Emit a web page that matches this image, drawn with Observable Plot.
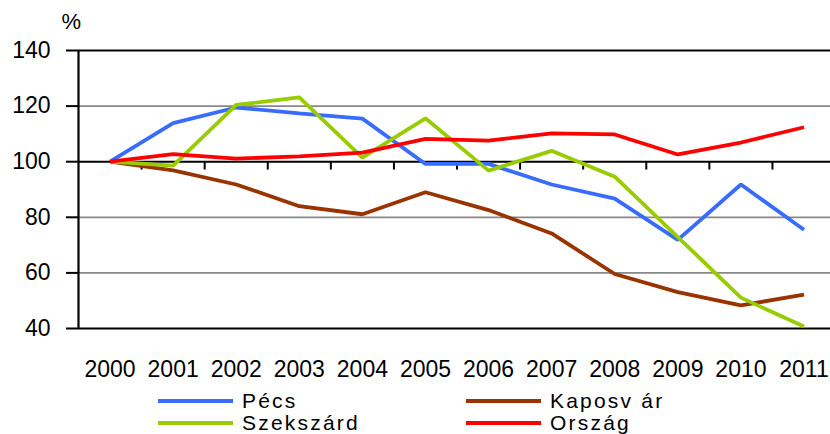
<!DOCTYPE html>
<html>
<head>
<meta charset="utf-8">
<script src="https://cdn.jsdelivr.net/npm/d3@7"></script>
<script src="https://cdn.jsdelivr.net/npm/@observablehq/plot@0.6"></script>
<style>
  body { margin: 0; background: #fff; }
  #wrap { position: relative; width: 830px; height: 434px; overflow: hidden; font-family: "Liberation Sans", Arial, sans-serif; }
  .leg { position: absolute; display: flex; align-items: center; font-size: 21px; color: #000; line-height: 22px; letter-spacing: 2.2px; }
  .leg span.sw { display: inline-block; width: 75px; height: 4px; margin-right: 9px; }
</style>
</head>
<body>
<div id="wrap"></div>
<script>
const years = [2000, 2001, 2002, 2003, 2004, 2005, 2006, 2007, 2008, 2009, 2010, 2011];
const pecs      = [100, 113.9, 119.5, 117.4, 115.5, 99.2, 99.2, 91.8, 86.7, 71.9, 91.8, 75.5];
const kaposvar  = [100, 96.9, 91.8, 84.0, 81.1, 89.0, 82.6, 74.2, 59.6, 53.1, 48.3, 52.2];
const szekszard = [100, 98.6, 120.4, 123.1, 101.5, 115.6, 96.8, 103.9, 94.6, 72.9, 51.1, 40.7];
const orszag    = [100, 102.7, 101.1, 101.9, 103.3, 108.2, 107.6, 110.2, 109.8, 102.6, 106.9, 112.4];
const seriesNames = ["Pécs", "Kaposvár", "Szekszárd", "Ország"];
const seriesColors = ["#386bff", "#993300", "#99cc00", "#ff0000"];
const yTicks = [40, 60, 80, 100, 120, 140];
const gridGray = [60, 80, 120];
const gridBlack = [40, 100, 140];
const boundaries = years.slice(0, -1).map(y => y + 0.5);

const seriesValues = [pecs, kaposvar, szekszard, orszag];
const rows = seriesNames.flatMap((name, i) => years.map((yr, j) => ({series: name, year: yr, value: seriesValues[i][j]})));

const chart = Plot.plot({
  width: 830,
  height: 385,
  marginLeft: 78,
  marginRight: 0,
  marginTop: 50,
  marginBottom: 57,
  style: {fontFamily: "'Liberation Sans', Arial, sans-serif", fontSize: "23px", color: "#000", background: "#fff", overflow: "visible"},
  x: {domain: [1999.5, 2011.42], axis: null, label: null},
  y: {domain: [40, 140], axis: null, label: null},
  color: {domain: seriesNames, range: seriesColors},
  marks: [
    Plot.ruleY(gridGray, {stroke: "#888", strokeWidth: 1.8}),
    Plot.ruleY(gridBlack, {stroke: "#000", strokeWidth: 2}),
    Plot.ruleX(boundaries, {x: d => d, y1: 100, y2: 97, stroke: "#000", strokeWidth: 2}),
    Plot.ruleX([1999.5], {stroke: "#000", strokeWidth: 2.2}),
    Plot.axisY({ticks: yTicks, label: null, tickSize: 12, tickPadding: 16, fontSize: 23, tickFormat: d => d, stroke: "#000", strokeWidth: 2, className: "yax"}),
    Plot.axisX({ticks: years, label: null, tickSize: 0, tickPadding: 32, fontSize: 23, tickFormat: d => String(d), anchor: "bottom", className: "xax"}),
    Plot.line(rows, {x: "year", y: "value", z: "series", stroke: "series", strokeWidth: 3.8, strokeLinejoin: "miter", strokeLinecap: "butt"}),
    Plot.text(["%"], {frameAnchor: "top-left", text: d => d, dx: -17, dy: -29, textAnchor: "start", lineAnchor: "middle", fontSize: 22, className: "pct"})
  ]
});

d3.select(chart).selectAll(".xax text, .yax text").attr("font-size", 23).style("font-size", "23px");
d3.select(chart).selectAll(".pct text").attr("font-size", 22).style("font-size", "22px");

const wrap = document.getElementById("wrap");
wrap.appendChild(chart);

const legendPos = [
  {left: 158, top: 390},
  {left: 466, top: 390},
  {left: 158, top: 412},
  {left: 466, top: 412}
];
const legendLabels = ["Pécs", "Kaposv ár", "Szekszárd", "Ország"];
seriesNames.forEach((name, i) => {
  const d = document.createElement("div");
  d.className = "leg";
  d.style.left = legendPos[i].left + "px";
  d.style.top = legendPos[i].top + "px";
  d.innerHTML = `<span class="sw" style="background:${seriesColors[i]}"></span><span>${legendLabels[i]}</span>`;
  wrap.appendChild(d);
});
</script>
</body>
</html>
